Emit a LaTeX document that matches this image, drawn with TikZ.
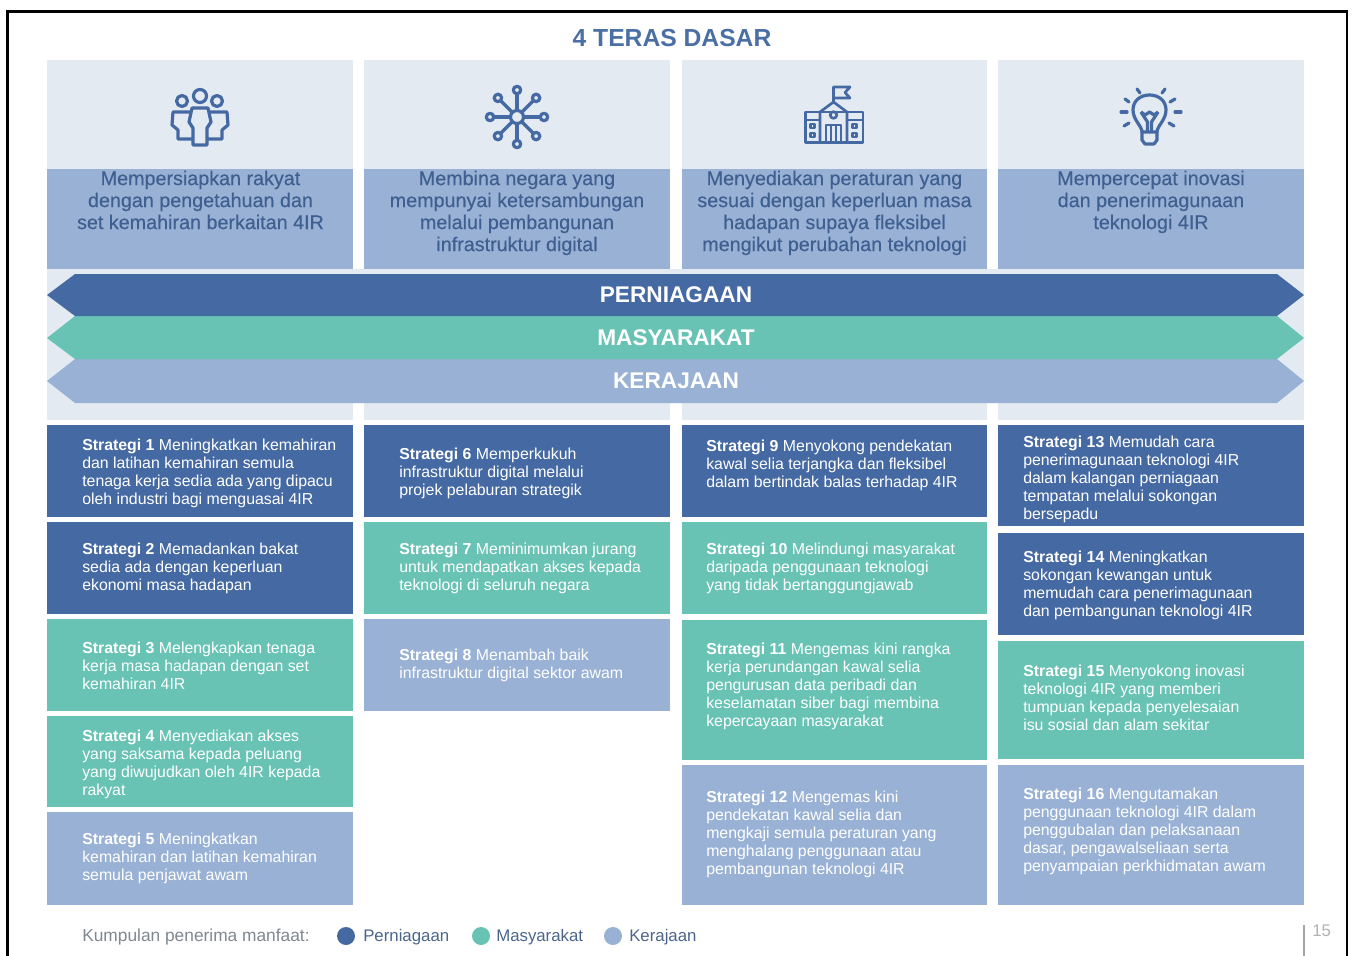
\documentclass[tikz,border=0pt]{standalone}
\usepackage{fontspec}
\setmainfont{Liberation Sans}
\newfontfamily\hdfont[FakeBold=0.3]{Liberation Sans}
\definecolor{dkb}{HTML}{4569A3}
\definecolor{tealc}{HTML}{68C3B5}
\definecolor{ltb}{HTML}{98B1D5}
\definecolor{pale}{HTML}{E3EAF1}
\definecolor{ttl}{HTML}{4A6FA5}
\definecolor{hdtx}{HTML}{3E5F90}
\definecolor{grytx}{HTML}{7F8790}
\tikzset{
 stext/.style={anchor=west,align=left,text=white,font=\fontsize{11.9}{13.5}\selectfont,inner sep=0pt},
 htext/.style={anchor=north,align=center,text=hdtx,font=\fontsize{14.8}{16.5}\selectfont\hdfont,inner sep=0pt},
 bartext/.style={text=white,font=\fontsize{17}{20}\selectfont\bfseries,inner sep=0pt},
 legtext/.style={anchor=west,text=hdtx!80!gray,font=\fontsize{12.6}{14}\selectfont,inner sep=0pt},
 icon/.style={draw=dkb,line width=2.4pt,fill=none,line join=round},
}
\newcommand{\stbox}[9]{% name, colour, x0, y0, x1, y1, textx, texty, text
 \fill[#2] (#3,#4) rectangle (#5,#6);
 \node[stext] (#1) at (#7,#8+2) {#9};
}
\newcommand{\sg}[1]{\textbf{Strategi #1}}
\begin{document}
\begin{tikzpicture}[x=0.75pt,y=-0.75pt]
\useasboundingbox (0,0) rectangle (1352,956);
\draw[black,line width=2pt] (7.5,956) -- (7.5,11.5) -- (1347,11.5) -- (1347,956);
\node[text=ttl,font=\fontsize{18.5}{22}\selectfont\bfseries,inner sep=0pt] (title) at (672,38) {4 TERAS DASAR};
% header columns
\foreach \a/\b in {47/353,364/670,682/987,998/1304}{
 \fill[pale] (\a,60) rectangle (\b,169);
 \fill[ltb] (\a,169) rectangle (\b,269);
 \fill[pale] (\a,403) rectangle (\b,420);
}
\fill[pale] (47,269) rectangle (1304,403);
\node[htext] (h1) at (200.5,170.5) {Mempersiapkan rakyat\\dengan pengetahuan dan\\set kemahiran berkaitan 4IR};
\node[htext] (h2) at (517,170.5) {Membina negara yang\\mempunyai ketersambungan\\melalui pembangunan\\infrastruktur digital};
\node[htext] (h3) at (834.5,170.5) {Menyediakan peraturan yang\\sesuai dengan keperluan masa\\hadapan supaya fleksibel\\mengikut perubahan teknologi};
\node[htext] (h4) at (1151,170.5) {Mempercepat inovasi\\dan penerimagunaan\\teknologi 4IR};
% arrows
\fill[ltb] (47,381) -- (75,359) -- (1277,359) -- (1304,381) -- (1277,403) -- (75,403) -- cycle;
\fill[tealc] (47,338) -- (75,316) -- (1277,316) -- (1304,338) -- (1277,359) -- (75,359) -- cycle;
\fill[dkb] (47,295) -- (75,274) -- (1277,274) -- (1304,295) -- (1277,316) -- (75,316) -- cycle;
\node[bartext] (b1) at (676,295) {PERNIAGAAN};
\node[bartext] (b2) at (676,338) {MASYARAKAT};
\node[bartext] (b3) at (676,381) {KERAJAAN};
% column 1
\stbox{s1}{dkb}{47}{425}{353}{517}{82}{471.5}{\sg{1} Meningkatkan kemahiran\\dan latihan kemahiran semula\\tenaga kerja sedia ada yang dipacu\\oleh industri bagi menguasai 4IR}
\stbox{s2}{dkb}{47}{522}{353}{614}{82}{566}{\sg{2} Memadankan bakat\\sedia ada dengan keperluan\\ekonomi masa hadapan}
\stbox{s3}{tealc}{47}{619}{353}{711}{82}{664}{\sg{3} Melengkapkan tenaga\\kerja masa hadapan dengan set\\kemahiran 4IR}
\stbox{s4}{tealc}{47}{716}{353}{807}{82}{762}{\sg{4} Menyediakan akses\\yang saksama kepada peluang\\yang diwujudkan oleh 4IR kepada\\rakyat}
\stbox{s5}{ltb}{47}{812}{353}{905}{82}{856}{\sg{5} Meningkatkan\\kemahiran dan latihan kemahiran\\semula penjawat awam}
% column 2
\stbox{s6}{dkb}{364}{425}{670}{517}{399}{471.5}{\sg{6} Memperkukuh\\infrastruktur digital melalui\\projek pelaburan strategik}
\stbox{s7}{tealc}{364}{522}{670}{614}{399}{566}{\sg{7} Meminimumkan jurang\\untuk mendapatkan akses kepada\\teknologi di seluruh negara}
\stbox{s8}{ltb}{364}{619}{670}{711}{399}{663}{\sg{8} Menambah baik\\infrastruktur digital sektor awam}
% column 3
\stbox{s9}{dkb}{682}{425}{987}{517}{706}{463}{\sg{9} Menyokong pendekatan\\kawal selia terjangka dan fleksibel\\dalam bertindak balas terhadap 4IR}
\stbox{s10}{tealc}{682}{522}{987}{614}{706}{566}{\sg{10} Melindungi masyarakat\\daripada penggunaan teknologi\\yang tidak bertanggungjawab}
\stbox{s11}{tealc}{682}{620}{987}{760}{706}{684.5}{\sg{11} Mengemas kini rangka\\kerja perundangan kawal selia\\pengurusan data peribadi dan\\keselamatan siber bagi membina\\kepercayaan masyarakat}
\stbox{s12}{ltb}{682}{765}{987}{905}{706}{832.5}{\sg{12} Mengemas kini\\pendekatan kawal selia dan\\mengkaji semula peraturan yang\\menghalang penggunaan atau\\pembangunan teknologi 4IR}
% column 4
\stbox{s13}{dkb}{998}{425}{1304}{526}{1023}{477.5}{\sg{13} Memudah cara\\penerimagunaan teknologi 4IR\\dalam kalangan perniagaan\\tempatan melalui sokongan\\bersepadu}
\stbox{s14}{dkb}{998}{533}{1304}{635}{1023}{583.5}{\sg{14} Meningkatkan\\sokongan kewangan untuk\\memudah cara penerimagunaan\\dan pembangunan teknologi 4IR}
\stbox{s15}{tealc}{998}{641}{1304}{759}{1023}{696}{\sg{15} Menyokong inovasi\\teknologi 4IR yang memberi\\tumpuan kepada penyelesaian\\isu sosial dan alam sekitar}
\stbox{s16}{ltb}{998}{765}{1304}{905}{1023}{829.5}{\sg{16} Mengutamakan\\penggunaan teknologi 4IR dalam\\penggubalan dan pelaksanaan\\dasar, pengawalseliaan serta\\penyampaian perkhidmatan awam}
% legend
\node[legtext,text=grytx,font=\fontsize{13}{14}\selectfont] (l0) at (82,937) {Kumpulan penerima manfaat:};
\fill[dkb] (346,936) circle (9);
\node[legtext] (l1) at (363,937) {Perniagaan};
\fill[tealc] (481,936) circle (9);
\node[legtext] (l2) at (496,937) {Masyarakat};
\fill[ltb] (613,936) circle (9);
\node[legtext] (l3) at (629,937) {Kerajaan};
\draw[gray!70,line width=1pt] (1304,925) -- (1304,956);
\node[legtext,text=gray!60] (pg) at (1312,931) {15};
% people icon
\begin{scope}[icon]
 \draw (200,96) circle (6.5);
 \draw (182,101) circle (5.5);
 \draw (217,101) circle (5.5);
 \draw (192,108) -- (208,108) -- (211,122) -- (207,128) -- (207,145) -- (193,145) -- (193,128) -- (189,122) -- cycle;
 \draw (191,112) -- (173,112) -- (172,125) -- (178,130) -- (178,139) -- (193,139);
 \draw (209,112) -- (227,112) -- (228,125) -- (222,130) -- (222,139) -- (207,139);
\end{scope}
% network icon
\begin{scope}[icon]
 \draw (517,117) circle (6.5);
 \foreach \t in {0,45,...,315}{
  \draw (517,117) ++(\t:6.5) -- ++(\t:17);
  \draw (517,117) ++(\t:27) circle (3.7);
 }
\end{scope}
% school icon
\begin{scope}[icon,line width=2pt]
 \draw (805.5,112) rectangle (863,142.5);
 \draw (805.5,120) -- (820,120);
 \draw (847,120) -- (863,120);
 \draw (820,142.5) -- (820,112) -- (833.5,102) -- (847,112) -- (847,142.5);
 \draw (833.5,102) -- (833.5,87) -- (850,87) -- (845,92.5) -- (850,98) -- (833.5,98);
 \draw (833.5,115) circle (3.3);
 \draw (826,142.5) -- (826,125) -- (841,125) -- (841,142.5);
 \draw (831,125) -- (831,142.5);
 \draw (836,125) -- (836,142.5);
 \draw (810.5,124) rectangle (814.5,128);
 \draw (810.5,133) rectangle (814.5,137);
 \draw (852.5,124) rectangle (856.5,128);
 \draw (852.5,133) rectangle (856.5,137);
\end{scope}
% bulb icon
\begin{scope}[icon]
 \draw (1142,132) .. controls (1142,126) and (1133,120) .. (1133,110) .. controls (1133,101) and (1140,95) .. (1149.5,95) .. controls (1159,95) and (1166,101) .. (1166,110) .. controls (1166,120) and (1157,126) .. (1157,132) -- cycle;
 \draw (1142,132) -- (1142,140) -- (1145,144) -- (1154,144) -- (1157,140) -- (1157,132);
 \draw (1141,112) -- (1145,115) -- (1149.5,112) -- (1154,115) -- (1158,112);
 \draw (1141,112) -- (1147.5,122) -- (1147.5,132);
 \draw (1158,112) -- (1151.5,122) -- (1151.5,132);
 \draw[line cap=round] (1137,89) -- (1140,93);
 \draw[line cap=round] (1165,89) -- (1162,93);
 \draw[line cap=round] (1125,99) -- (1129,102);
 \draw[line cap=round] (1175,99) -- (1170,102);
 \draw[line cap=round] (1121,112) -- (1127,112);
 \draw[line cap=round] (1175,112) -- (1181,112);
 \draw[line cap=round] (1124,126) -- (1129,123);
 \draw[line cap=round] (1174,126) -- (1169,123);
\end{scope}
\end{tikzpicture}
\end{document}
